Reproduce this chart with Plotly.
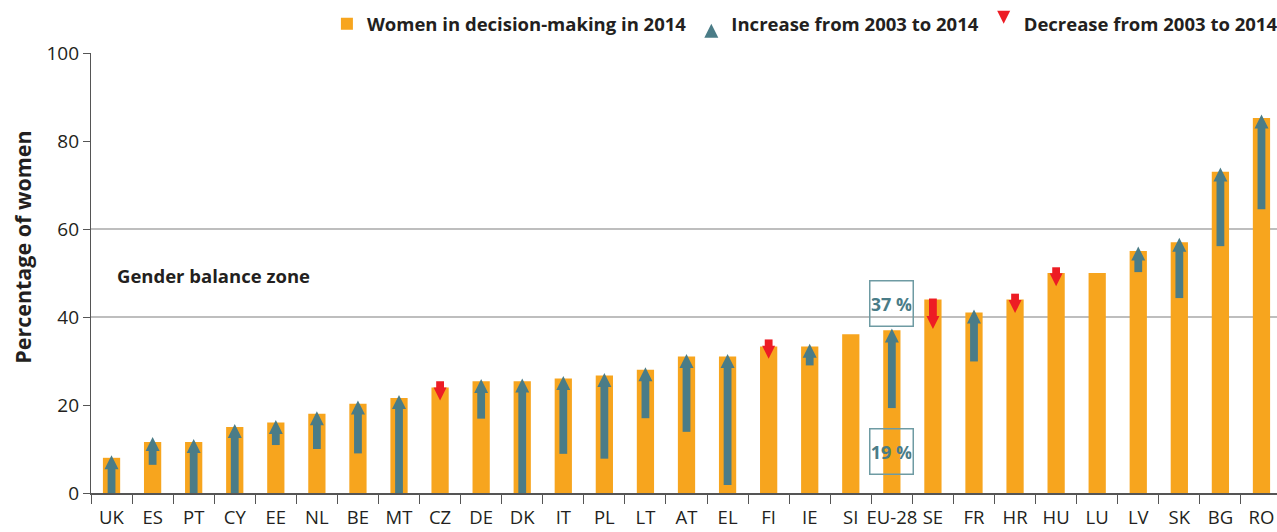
import plotly.graph_objects as go

# values
countries = ["UK", "ES", "PT", "CY", "EE", "NL", "BE", "MT", "CZ", "DE",
             "DK", "IT", "PL", "LT", "AT", "EL", "FI", "IE", "SI", "EU-28",
             "SE", "FR", "HR", "HU", "LU", "LV", "SK", "BG", "RO"]
women_2014 = [8.0, 11.6, 11.6, 15.0, 16.0, 18.0, 20.3, 21.6, 24.0, 25.4,
              25.4, 26.0, 26.7, 28.0, 31.0, 31.0, 33.3, 33.3, 36.1, 37.0,
              44.0, 41.0, 44.0, 50.0, 50.0, 55.0, 57.0, 73.0, 85.2]

# arrows: tail and tip (None = no arrow)
arrow_from = [0, 6.4, 0, 0, 10.9, 10.0, 9.0, 0, 25.4, 16.9,
              0, 8.9, 7.8, 17.0, 13.9, 1.8, 34.9, 29.0, None, 19.3,
              44.2, 29.9, 45.3, 51.3, None, 50.2, 44.3, 56.1, 64.5]
arrow_to = [8.6, 12.7, 12.3, 15.7, 16.6, 18.6, 21.0, 22.3, 21.0, 25.9,
            26.0, 26.6, 27.3, 28.6, 31.6, 31.6, 30.5, 33.9, None, 37.4,
            37.3, 41.7, 40.9, 47.0, None, 56.0, 58.0, 74.0, 86.0]

ORANGE = "#F7A51E"
TEAL = "#4A7C87"
RED = "#ED1C24"
DARK = "#231F20"

up_x, up_base, up_len, up_tip = [], [], [], []
dn_x, dn_base, dn_len, dn_tip = [], [], [], []
for c, a, b in zip(countries, arrow_from, arrow_to):
    if a is None:
        continue
    if b > a:
        up_x.append(c)
        up_base.append(a)
        up_len.append(max(b - 2.0 - a, 0))
        up_tip.append(b)
    else:
        dn_x.append(c)
        dn_base.append(b + 2.0)
        dn_len.append(max(a - (b + 2.0), 0))
        dn_tip.append(b)

fig = go.Figure()

fig.add_trace(go.Bar(
    x=countries, y=women_2014, name="Women in decision-making in 2014",
    marker=dict(color=ORANGE, line=dict(width=0)), width=0.42,
))

# arrow shafts
fig.add_trace(go.Bar(
    x=up_x, y=up_len, base=up_base, width=0.19, showlegend=False,
    marker=dict(color=TEAL, line=dict(width=0)), hoverinfo="skip",
))
fig.add_trace(go.Bar(
    x=dn_x, y=dn_len, base=dn_base, width=0.19, showlegend=False,
    marker=dict(color=RED, line=dict(width=0)), hoverinfo="skip",
))

# arrow heads
fig.add_trace(go.Scatter(
    x=up_x, y=up_tip, mode="markers", name="Increase from 2003 to 2014",
    marker=dict(symbol="arrow-up", size=14, color=TEAL, line=dict(width=0)),
))
fig.add_trace(go.Scatter(
    x=dn_x, y=dn_tip, mode="markers", name="Decrease from 2003 to 2014",
    marker=dict(symbol="arrow-down", size=13, color=RED, line=dict(width=0)),
))

# gender balance zone lines
for yv in (40, 60):
    fig.add_hline(y=yv, line_color="#A8A8A8", line_width=1.5, layer="below")

fig.add_annotation(x=0.02, xref="paper", y=49.5, text="<b>Gender balance zone</b>",
                   showarrow=False, xanchor="left",
                   font=dict(size=18.5, color=DARK))

for txt, yv in (("37 %", 43.0), ("19 %", 9.5)):
    fig.add_annotation(x="EU-28", y=yv, text="<b>" + txt + "</b>", showarrow=False,
                       width=40, height=42, borderpad=1, bordercolor="#6E9BA3",
                       borderwidth=1.5, font=dict(size=18, color=TEAL))

fig.add_annotation(x=-0.058, xref="paper", y=0.56, yref="paper", xanchor="center",
                   text="<b>Percentage of women</b>", textangle=-90,
                   showarrow=False, font=dict(size=21.5, color=DARK))

fig.update_layout(
    width=1277, height=532,
    barmode="overlay",
    paper_bgcolor="white",
    plot_bgcolor="white",
    font=dict(family="Open Sans", color=DARK, size=17),
    margin=dict(l=91, r=0, t=53, b=39, autoexpand=False),
    showlegend=True,
    legend=dict(orientation="h", xref="container", yref="container",
                x=0.256, y=0.99, xanchor="left", yanchor="top",
                font=dict(size=18.5, color=DARK, weight="bold"),
                itemwidth=30, traceorder="normal"),
    xaxis=dict(type="category", range=[-0.5, 28.378], showgrid=False,
               showline=True, linecolor="#555555", linewidth=1.5,
               ticks="outside", tickson="boundaries", ticklen=9,
               tickcolor="#555555", tickangle=0, ticklabelstandoff=7,
               automargin=False, tickfont=dict(size=18.5, color=DARK)),
    yaxis=dict(range=[0, 100], tickvals=[0, 20, 40, 60, 80, 100],
               showgrid=False, zeroline=False, showline=True,
               linecolor="#555555", linewidth=1.2, ticks="outside",
               ticklen=7, tickcolor="#555555", automargin=False,
               tickfont=dict(size=19, color=DARK)),
)

fig.write_html("out.html", config={"displayModeBar": False},
               post_script="document.body.style.margin='0';")
